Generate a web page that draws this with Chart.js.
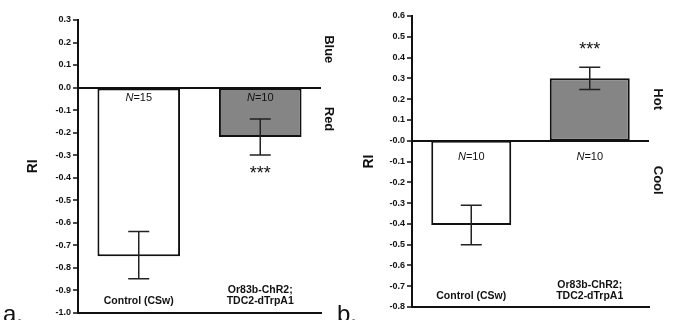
<!DOCTYPE html>
<html>
<head>
<meta charset="utf-8">
<script src="https://cdn.jsdelivr.net/npm/chart.js@4"></script>
<style>
  body { margin: 0; background: #fff; }
  .panel { position: absolute; top: 0; width: 338px; height: 320px; }
</style>
</head>
<body>
<div class="panel" style="left:0"><canvas id="chartA" width="338" height="320"></canvas></div>
<div class="panel" style="left:338px"><canvas id="chartB" width="338" height="320"></canvas></div>
<script>
// categories (multi-line labels)
const categories = [['Control (CSw)'], ['Or83b-ChR2;', 'TDC2-dTrpA1']];

// panel a: blue vs red light
const meansA = [-0.75, -0.22];
const errLowA = [-0.85, -0.30];
const errHighA = [-0.64, -0.14];
const nA = [15, 10];
const sigA = ['', '***'];
const sideA = [{ text: 'Blue', value: 0.17 }, { text: 'Red', value: -0.14 }];
const ticksA = { min: -1.0, max: 0.3 };

// panel b: hot vs cool
const meansB = [-0.405, 0.30];
const errLowB = [-0.50, 0.246];
const errHighB = [-0.31, 0.354];
const nB = [10, 10];
const sigB = ['', '***'];
const sideB = [{ text: 'Hot', value: 0.2 }, { text: 'Cool', value: -0.19 }];
const ticksB = { min: -0.8, max: 0.6 };

const barColors = ['#ffffff', '#858585'];
const FONT = "'Liberation Sans', Arial, sans-serif";

// draws mean +/- error whiskers on top of the bars
const errorBars = {
  id: 'errorBars',
  afterDatasetsDraw(chart, args, opts) {
    const { ctx, scales: { y } } = chart;
    const meta = chart.getDatasetMeta(0);
    ctx.save();
    ctx.strokeStyle = '#222';
    ctx.lineWidth = 1.5;
    opts.low.forEach((lo, i) => {
      const x = meta.data[i].x;
      const y1 = y.getPixelForValue(lo);
      const y2 = y.getPixelForValue(opts.high[i]);
      ctx.beginPath();
      ctx.moveTo(x, y1); ctx.lineTo(x, y2);
      ctx.moveTo(x - opts.cap, y1); ctx.lineTo(x + opts.cap, y1);
      ctx.moveTo(x - opts.cap, y2); ctx.lineTo(x + opts.cap, y2);
      ctx.stroke();
    });
    ctx.restore();
  }
};

// N labels, significance stars, category names, side labels, panel letter
const annotations = {
  id: 'annotations',
  afterDraw(chart, args, opts) {
    const { ctx, chartArea, scales: { x, y } } = chart;
    const zero = y.getPixelForValue(0);
    ctx.save();
    ctx.fillStyle = '#111';
    ctx.textBaseline = 'middle';

    // N=..
    opts.n.forEach((n, i) => {
      const cx = x.getPixelForValue(i);
      const ny = zero + opts.nOffset;
      ctx.font = 'italic 11px ' + FONT;
      const w1 = ctx.measureText('N').width;
      ctx.font = '11px ' + FONT;
      const w2 = ctx.measureText('=' + n).width;
      const left = cx - (w1 + w2) / 2;
      ctx.textAlign = 'left';
      ctx.font = 'italic 11px ' + FONT;
      ctx.fillText('N', left, ny);
      ctx.font = '11px ' + FONT;
      ctx.fillText('=' + n, left + w1, ny);
    });

    // stars
    ctx.textAlign = 'center';
    ctx.font = '18px ' + FONT;
    opts.sig.forEach((s, i) => {
      if (!s) return;
      const cx = x.getPixelForValue(i);
      const sy = opts.means[i] < 0
        ? y.getPixelForValue(opts.low[i]) + 19
        : y.getPixelForValue(opts.high[i]) - 17;
      ctx.fillText(s, cx, sy);
    });

    // category labels inside the plot, above the bottom axis
    ctx.font = 'bold 10.5px ' + FONT;
    categories.forEach((lines, i) => {
      const cx = x.getPixelForValue(i);
      lines.forEach((line, j) => {
        const ly = chartArea.bottom - 11 - (lines.length - 1 - j) * 11;
        ctx.fillText(line, cx, ly);
      });
    });

    // side labels, rotated clockwise
    ctx.font = 'bold 13px ' + FONT;
    opts.side.forEach(s => {
      ctx.save();
      ctx.translate(chartArea.right + opts.sideOffset, y.getPixelForValue(s.value));
      ctx.rotate(Math.PI / 2);
      ctx.fillText(s.text, 0, 0);
      ctx.restore();
    });

    // panel letter
    ctx.textAlign = 'left';
    ctx.textBaseline = 'alphabetic';
    ctx.font = '24px ' + FONT;
    ctx.fillText(opts.letter, opts.letterX, 322);
    ctx.restore();
  }
};

function makeChart(id, means, low, high, n, sig, side, range, cfg) {
  return new Chart(document.getElementById(id), {
    type: 'bar',
    data: {
      labels: categories.map(c => c.join(' ')),
      datasets: [{
        data: means,
        backgroundColor: barColors,
        borderColor: '#111',
        borderWidth: 2,
        borderSkipped: false,
        barPercentage: cfg.barPct,
        categoryPercentage: 1
      }]
    },
    options: {
      responsive: false,
      animation: false,
      layout: { padding: cfg.padding },
      plugins: {
        legend: { display: false },
        tooltip: { enabled: false },
        errorBars: { low, high, cap: 10.5 },
        annotations: {
          n, sig, side, means, low, high,
          nOffset: cfg.nOffset,
          sideOffset: cfg.sideOffset,
          letter: cfg.letter,
          letterX: cfg.letterX
        }
      },
      scales: {
        x: {
          ticks: { display: false },
          grid: { display: false },
          border: { display: true, color: '#111', width: 2 },
          afterFit: s => { s.height = 0; }
        },
        y: {
          min: range.min,
          max: range.max,
          ticks: {
            stepSize: 0.1,
            color: '#111',
            padding: 2,
            font: { family: FONT, size: 9, weight: 'bold' },
            callback: v => v.toFixed(1)
          },
          grid: {
            color: c => Math.abs(c.tick.value) < 1e-9 ? '#111' : 'rgba(0,0,0,0)',
            lineWidth: 2,
            tickColor: '#111',
            tickLength: 5,
            tickWidth: 1.5
          },
          border: { display: true, color: '#111', width: 2 },
          title: {
            display: true,
            text: 'RI',
            color: '#111',
            font: { family: FONT, size: 14, weight: 'bold' },
            padding: { top: cfg.titlePad, bottom: 0 }
          },
          afterFit: s => { s.width = cfg.axisWidth; }
        }
      }
    },
    plugins: [errorBars, annotations]
  });
}

makeChart('chartA', meansA, errLowA, errHighA, nA, sigA, sideA, ticksA, {
  padding: { left: 0, top: 20, right: 17, bottom: 7 },
  axisWidth: 78, titlePad: 25, barPct: 0.68, nOffset: 10,
  sideOffset: 8, letter: 'a.', letterX: 3
});

makeChart('chartB', meansB, errLowB, errHighB, nB, sigB, sideB, ticksB, {
  padding: { left: 0, top: 16, right: 27, bottom: 13 },
  axisWidth: 74, titlePad: 23, barPct: 0.675, nOffset: 16,
  sideOffset: 9, letter: 'b.', letterX: -1
});
</script>
</body>
</html>
